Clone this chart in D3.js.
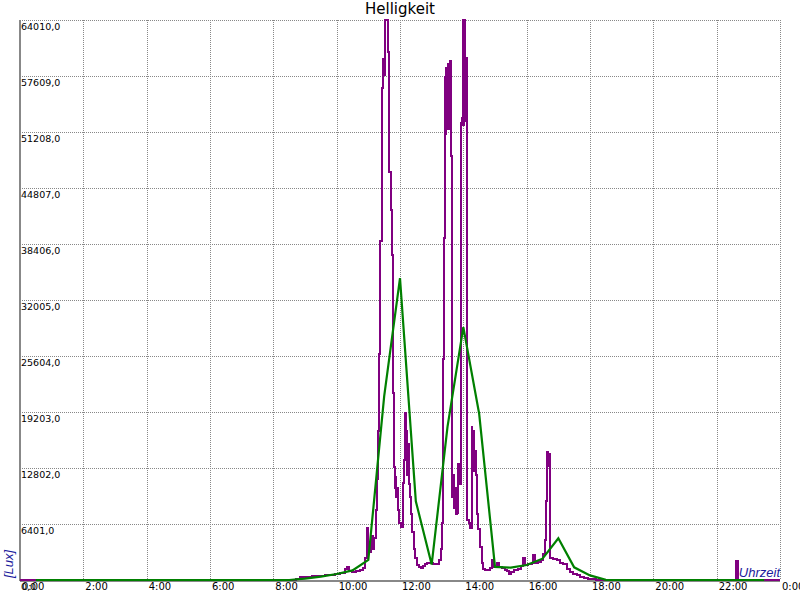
<!DOCTYPE html>
<html>
<head>
<meta charset="utf-8">
<script src="https://cdn.jsdelivr.net/npm/d3@7"></script>
<style>
html,body{margin:0;padding:0;background:#fff;}
svg{display:block;}
</style>
</head>
<body>
<svg id="chart" width="800" height="600"></svg>
<script>
// ---- data ----
const title = "Helligkeit";
const yTickValues = [0, 6401, 12802, 19203, 25604, 32005, 38406, 44807, 51208, 57609, 64010];
const xTickMinutes = [0, 120, 240, 360, 480, 600, 720, 840, 960, 1080, 1200, 1320, 1440];
const xTickLabels = ["0:00","2:00","4:00","6:00","8:00","10:00","12:00","14:00","16:00","18:00","20:00","22:00","0:00"];

// purple series: minutes of day, lux (step data)
const purpleTimes = [0,519,523,530,540,553,565,578,587,597,606,616,620,623,629,637,644,650,654,657,659,662,665,668,671,674,677,679,681,683,685,687,690,691,698,700,702,705,707,709,711,712,713,715,717,719,722,725,726,728,730,731,732,733,735,737,739,741,743,746,748,752,756,760,764,767,771,777,783,789,794,797,799,801,802,804,805,807,808,809,810,811,813,814,815,816,818,819,821,822,824,826,828,830,833,835,836,838,839,840,841,843,844,846,847,850,853,856,857,859,861,862,864,866,868,872,875,877,881,887,891,894,898,904,908,913,919,923,927,930,936,944,949,953,957,963,970,972,976,981,987,991,995,997,998,1001,1003,1004,1005,1010,1017,1023,1029,1036,1042,1048,1055,1061,1069,1076,1084,1091,1357,1360,1440];
const purpleValues = [0,0,150,300,380,420,490,520,600,680,750,1300,1500,1000,900,1000,1150,1400,2500,5900,4200,3200,5000,3600,4800,8000,11500,17000,25800,38700,56200,59600,57700,64010,60350,46600,42300,37150,21400,12900,10500,11800,9500,10500,8000,6500,6100,6500,11100,13700,19100,14000,17000,12000,15500,11000,9500,7500,5500,3600,2500,1700,1500,1400,1550,1800,2000,1950,1800,1800,2300,3600,6500,8900,25300,39100,57500,51000,58500,52000,59000,51500,58800,52500,59300,48500,12600,9500,12000,8200,10500,7500,7700,13300,11000,13000,52200,52800,64010,52000,64010,52500,59700,52000,6860,6500,6000,17500,13500,17000,12500,14800,12000,7600,5800,3800,2000,1300,1100,1150,1400,2300,1500,1900,1500,1400,1200,1000,700,900,1150,1300,1600,2500,1700,1800,2000,2860,2000,2100,2300,3000,4600,9000,14600,13000,14400,7500,2500,2400,2300,1900,1800,1300,900,700,550,400,250,150,60,0,2200,0,0];

// green series: half-hourly averages, minutes of day, lux
const greenTimes = [30,60,90,120,150,180,210,240,270,300,330,360,390,420,450,480,510,540,570,600,630,660,690,720,750,780,810,840,870,900,930,960,990,1020,1050,1080,1110,1140,1170,1200,1230,1260,1290,1320,1350,1380,1410];
const greenValues = [0,0,0,0,0,0,0,0,0,0,0,0,0,0,0,0,0,150,380,690,1100,2300,21000,34500,9000,1760,17500,28900,19000,1500,1410,1710,2440,4770,1450,530,20,0,0,0,0,0,0,0,0,0,0];

// ---- drawing ----
const svg = d3.select("#chart");
const W = 800, H = 600;
const m = {left: 20, right: 20, top: 20, bottom: 20};
const x = d3.scaleLinear().domain([0, 1440]).range([m.left, W - m.right]);
const y = d3.scaleLinear().domain([0, 64010]).range([H - m.bottom, m.top]);

svg.append("rect").attr("width", W).attr("height", H).attr("fill", "#fff");

// grid
const grid = svg.append("g").attr("stroke", "#888").attr("stroke-width", 1).attr("stroke-dasharray", "1,1")
  .attr("shape-rendering", "crispEdges");
grid.selectAll("line.h").data(yTickValues.slice(1)).enter().append("line")
  .attr("x1", m.left).attr("x2", W - m.right)
  .attr("y1", d => Math.round(y(d)) + 0.5).attr("y2", d => Math.round(y(d)) + 0.5);
grid.selectAll("line.v").data(xTickMinutes.slice(1)).enter().append("line")
  .attr("x1", d => Math.round(x(d)) + 0.5).attr("x2", d => Math.round(x(d)) + 0.5)
  .attr("y1", m.top).attr("y2", H - m.bottom);

// axes lines
svg.append("line").attr("x1", m.left).attr("x2", m.left).attr("y1", m.top).attr("y2", H - m.bottom + 1)
  .attr("stroke", "#888").attr("stroke-width", 2).attr("shape-rendering", "crispEdges");
svg.append("line").attr("x1", m.left).attr("x2", W - m.right).attr("y1", H - m.bottom + 0.5).attr("y2", H - m.bottom + 0.5)
  .attr("stroke", "#888").attr("stroke-width", 2).attr("shape-rendering", "crispEdges");

// series
const purple = purpleTimes.map((t, i) => [t, purpleValues[i]]);
const green = greenTimes.map((t, i) => [t, greenValues[i]]);

svg.append("path").datum(purple)
  .attr("fill", "none").attr("stroke", "#800080").attr("stroke-width", 2)
  .attr("shape-rendering", "crispEdges")
  .attr("d", d3.line().x(d => x(d[0])).y(d => y(d[1])).curve(d3.curveStepAfter));

svg.append("path").datum(green)
  .attr("fill", "none").attr("stroke", "#008000").attr("stroke-width", 2.2)
  .attr("d", d3.line().x(d => x(d[0])).y(d => y(d[1])));

// y labels
const fmt = v => v.toFixed(1).replace(".", ",");
svg.append("g").selectAll("text").data(yTickValues).enter().append("text")
  .attr("x", m.left + 1).attr("y", d => y(d) + 10)
  .attr("font-family", "DejaVu Sans").attr("font-size", 9.5).attr("fill", "#000")
  .text(d => fmt(d));

// x labels
svg.append("g").selectAll("text").data(xTickMinutes).enter().append("text")
  .attr("x", d => x(d) + 2).attr("y", H - m.bottom + 10)
  .attr("font-family", "DejaVu Sans").attr("font-size", 10).attr("fill", "#000")
  .text((d, i) => xTickLabels[i]);

// title
svg.append("text").attr("x", W / 2).attr("y", 13.5).attr("text-anchor", "middle")
  .attr("font-family", "DejaVu Sans").attr("font-size", 15).attr("fill", "#000")
  .text(title);

// axis titles
svg.append("text").attr("transform", "translate(13,578) rotate(-90)")
  .attr("font-family", "Liberation Sans").attr("font-style", "italic").attr("font-size", 13).attr("fill", "#1a1a9c")
  .text("[Lux]");
svg.append("text").attr("x", W - m.right).attr("y", 577).attr("text-anchor", "end")
  .attr("font-family", "Liberation Sans").attr("font-style", "italic").attr("font-size", 13).attr("fill", "#1a1a9c")
  .text("Uhrzeit");
</script>
</body>
</html>
